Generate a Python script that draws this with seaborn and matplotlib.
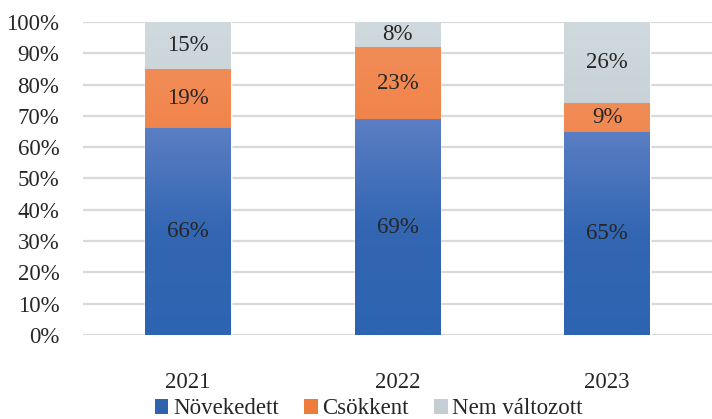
import numpy as np
import pandas as pd
import matplotlib.pyplot as plt
import seaborn as sns
from matplotlib.colors import LinearSegmentedColormap
from matplotlib.patches import Patch

sns.set_theme(style="white")
plt.rcParams["font.family"] = ["Liberation Serif", "DejaVu Serif"]

years = ["2021", "2022", "2023"]
novekedett = [66, 69, 65]
csokkent = [19, 23, 9]
nem_valtozott = [15, 8, 26]

series = ["Növekedett", "Csökkent", "Nem változott"]
# legend colour, then gradient stops bottom -> middle -> top
colors = {
    "Növekedett": ("#2f63ae", ["#2d64b1", "#3366b3", "#5a7ec3"]),
    "Csökkent": ("#ee7b3b", ["#ec7431", "#ef7d3e", "#f28c57"]),
    "Nem változott": ("#c4ced3", ["#b3bec3", "#c2ccd1", "#d0d9dd"]),
}

df = pd.DataFrame({
    "year": years,
    "Növekedett": novekedett,
    "Csökkent": csokkent,
    "Nem változott": nem_valtozott,
})
df["c1"] = df["Növekedett"]
df["c2"] = df["c1"] + df["Csökkent"]
df["c3"] = df["c2"] + df["Nem változott"]

fig = plt.figure(figsize=(7.12, 4.19), dpi=100)
ax = fig.add_axes([0.1166, 0.2005, 0.8834, 0.747])

# stacked bars: draw totals from top layer down
layers = [("c3", "Nem változott"), ("c2", "Csökkent"), ("c1", "Növekedett")]
for col, name in layers:
    sns.barplot(data=df, x="year", y=col, color=colors[name][0],
                width=0.41, saturation=1, ax=ax, zorder=2)

# vertical gradient inside each bar segment
for i, (col, name) in enumerate(layers):
    cmap = LinearSegmentedColormap.from_list(name, colors[name][1])
    for p in ax.patches[i * 3:(i + 1) * 3]:
        x0, w, h = p.get_x(), p.get_width(), p.get_height()
        grad = np.linspace(0, 1, 100).reshape(-1, 1)
        im = ax.imshow(grad, cmap=cmap, origin="lower", aspect="auto",
                       extent=[x0, x0 + w, 0, h], zorder=2.5)
        im.set_clip_path(p)

# data labels, centred in each segment
for j in range(len(years)):
    bottom = 0
    for name in series:
        v = df[name][j]
        ax.text(j, bottom + v / 2, f"{v}%", ha="center", va="center",
                fontsize=16.5, color="#262626", zorder=4)
        bottom += v

ax.set_xlim(-0.5, 2.5)
ax.set_ylim(0, 100)
ax.set_yticks(range(0, 101, 10))
ax.set_yticklabels([f"{t}%" for t in range(0, 101, 10)])
ax.set_xlabel("")
ax.set_ylabel("")
ax.tick_params(axis="y", labelsize=16.5, pad=17, length=0, colors="#262626")
ax.tick_params(axis="x", labelsize=16.5, pad=27, length=0, colors="#262626")
ax.grid(axis="y", color="#d9d9d9", linewidth=1.6, zorder=0)
ax.set_axisbelow(True)
sns.despine(ax=ax, left=True, bottom=True, top=True, right=True)

handles = [Patch(facecolor=colors[n][0], edgecolor="none") for n in series]
fig.legend(handles, series, loc="center", bbox_to_anchor=(0.518, 0.024), ncol=3,
           frameon=False, fontsize=16.5, handlelength=0.6, handleheight=0.6,
           handletextpad=0.2, columnspacing=1.1, labelcolor="#262626")

fig.savefig("out.png", dpi=100)
